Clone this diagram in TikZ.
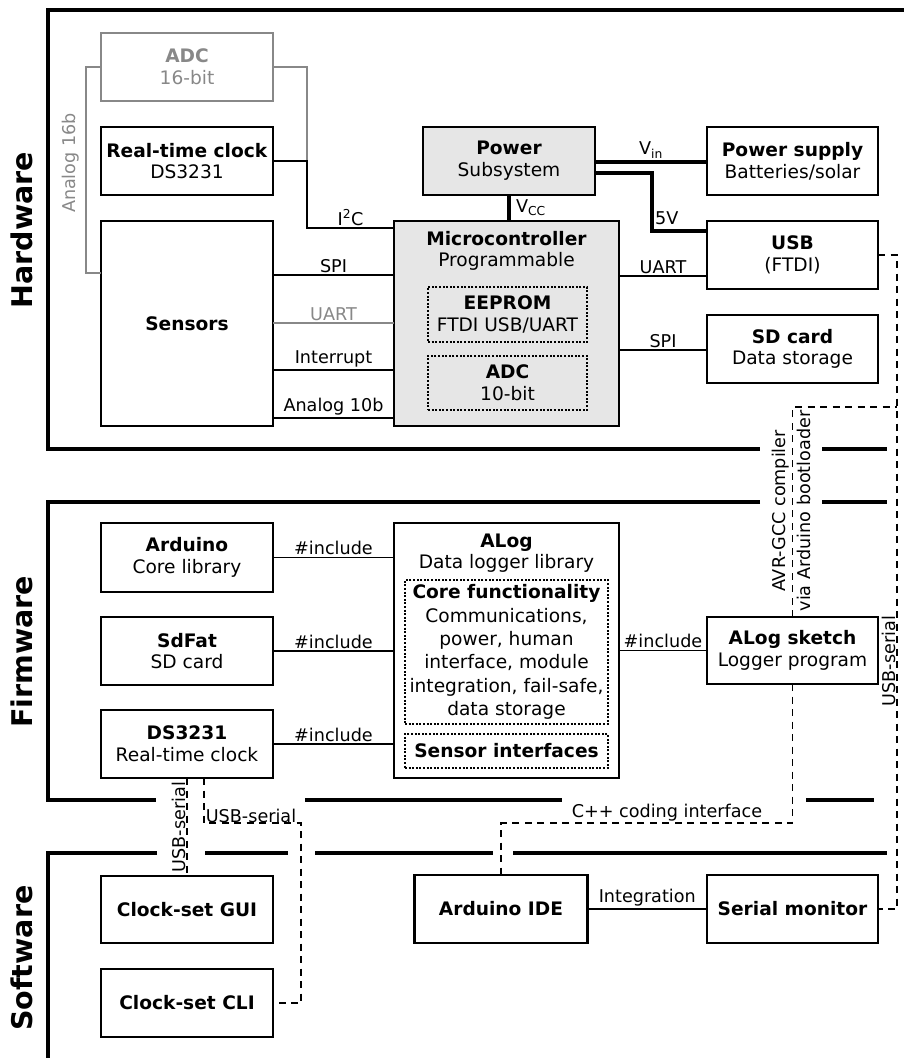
\documentclass[tikz,border=0pt]{standalone}
\usepackage{fontspec}
\setmainfont{DejaVu Sans}
\newcommand\myNodeFont{\fontsize{18.6}{21.7}\selectfont}
\newcommand\myLblFont{\fontsize{17.6}{20}\selectfont}
\newcommand\mySecFont{\fontsize{28.5}{34}\selectfont\bfseries}
\definecolor{boxfill}{HTML}{E6E6E6}
\definecolor{greyline}{HTML}{888888}
\begin{document}
\begin{tikzpicture}[x=1pt,y=-1pt,line join=miter,
  box/.style={draw, line width=2.6pt, inner sep=0pt, outer sep=0pt, align=center, font=\myNodeFont},
  greybox/.style={box, draw=greyline, text=greyline},
  shadedbox/.style={box, fill=boxfill},
  dotbox/.style={draw, line width=2pt, dash pattern=on 2pt off 1.6pt, inner sep=0pt, outer sep=0pt, align=center, font=\myNodeFont},
  txt/.style={inner sep=0pt, align=center, font=\myNodeFont},
  conn/.style={line width=1.3pt},
  greyconn/.style={conn, draw=greyline},
  powerline/.style={line width=4pt},
  dashconn/.style={line width=1.3pt, dash pattern=on 7pt off 5.5pt},
  framepart/.style={line width=4.3pt},
  lbl/.style={font=\myLblFont, inner sep=2pt},
  rlbl/.style={font=\myLblFont, inner sep=0pt, rotate=90, anchor=base},
  seclbl/.style={font=\mySecFont, rotate=90, inner sep=0pt}
]
\useasboundingbox (0,0) rectangle (904,1058);

% ---------- frames ----------
\draw[framepart] (904,10) -- (48,10) -- (48,449) -- (760,449);
\draw[framepart] (822,449) -- (887,449);
\draw[framepart] (760,502) -- (48,502) -- (48,800) -- (156,800);
\draw[framepart] (822,502) -- (887,502);
\draw[framepart] (305,800) -- (562,800);
\draw[framepart] (806,800) -- (874,800);
\draw[framepart] (157,853) -- (48,853) -- (48,1058);
\draw[framepart] (205,853) -- (288,853);
\draw[framepart] (315,853) -- (493,853);
\draw[framepart] (513,853) -- (887,853);

\node[seclbl] (hw) at (22,230) {Hardware};
\node[seclbl] (fw) at (22,652) {Firmware};
\node[seclbl] (sw) at (22,958) {Software};

% ---------- hardware ----------
\node[greybox, minimum width=172pt, minimum height=68pt] (adc16) at (187,67) {\textbf{ADC}\\16-bit};
\node[box, minimum width=172pt, minimum height=68pt] (rtc) at (187,161) {\textbf{Real-time clock}\\DS3231};
\node[box, minimum width=172pt, minimum height=205pt] (sensors) at (187,323.5) {\textbf{Sensors}};
\node[shadedbox, minimum width=225pt, minimum height=205pt] (mcu) at (506.5,323.5) {};
\node[txt] (mcut) at (506.5,251) {\textbf{Microcontroller}\\Programmable};
\node[dotbox, minimum width=159pt, minimum height=55pt] (eeprom) at (507.5,314.5) {\textbf{EEPROM}\\FTDI USB/UART};
\node[dotbox, minimum width=159pt, minimum height=54pt] (adc10) at (507.5,383) {\textbf{ADC}\\10-bit};
\node[shadedbox, minimum width=172pt, minimum height=68pt] (power) at (509,161) {\textbf{Power}\\Subsystem};
\node[box, minimum width=171pt, minimum height=68pt] (psu) at (792.5,161) {\textbf{Power supply}\\Batteries/solar};
\node[box, minimum width=171pt, minimum height=68pt] (usb) at (792.5,255) {\textbf{USB}\\(FTDI)};
\node[box, minimum width=171pt, minimum height=68pt] (sd) at (792.5,349) {\textbf{SD card}\\Data storage};

\coordinate (i2cj) at (307,161);
\draw[greyconn] (adc16.east) -| (i2cj);
\draw[conn] (rtc.east) -- (i2cj) -- (307,228) -- node[lbl,above]{I\textsuperscript{2}C} (mcu.west |- 0,228);
\draw[greyconn] (adc16.west) -| (86,273) -- (sensors.west |- 0,273);
\node[rlbl, text=greyline] (an16) at (75.5,163) {Analog 16b};

\draw[conn] (sensors.east |- 0,275) -- node[lbl,above]{SPI} (mcu.west |- 0,275);
\draw[greyconn] (sensors.east |- 0,323) -- node[lbl,above,text=greyline]{UART} (mcu.west |- 0,323);
\draw[conn] (sensors.east |- 0,370) -- node[lbl,above]{Interrupt} (mcu.west |- 0,370);
\draw[conn] (sensors.east |- 0,418) -- node[lbl,above]{Analog 10b} (mcu.west |- 0,418);

\draw[powerline] (power.south) -- node[lbl,right,inner sep=5pt]{V\textsubscript{CC}} (mcu.north -| power.south);
\draw[powerline] (power.east |- 0,162) -- node[lbl,above]{V\textsubscript{in}} (psu.west |- 0,162);
\draw[powerline] (power.east |- 0,173) -| (652,231) -- (usb.west |- 0,231);
\node[lbl, anchor=west] (fivev) at (653,218) {5V};

\draw[conn] (mcu.east |- 0,276) -- node[lbl,above]{UART} (usb.west |- 0,276);
\draw[conn] (mcu.east |- 0,350) -- node[lbl,above]{SPI} (sd.west |- 0,350);

% ---------- firmware ----------
\node[box, minimum width=172pt, minimum height=69pt] (arduino) at (187,557.5) {\textbf{Arduino}\\Core library};
\node[box, minimum width=172pt, minimum height=68pt] (sdfat) at (187,651) {\textbf{SdFat}\\SD card};
\node[box, minimum width=172pt, minimum height=68pt] (ds3231) at (187,744) {\textbf{DS3231}\\Real-time clock};
\node[box, minimum width=225pt, minimum height=255pt] (alog) at (506.5,650.5) {};
\node[txt] (alogt) at (506.5,553) {\textbf{ALog}\\Data logger library};
\node[dotbox, minimum width=203pt, minimum height=144pt, font={\fontsize{18.6}{23.3}\selectfont}] (core) at (506.5,652) {\textbf{Core functionality}\\Communications,\\power, human\\interface, module\\integration, fail-safe,\\data storage};
\node[dotbox, minimum width=203pt, minimum height=34pt] (sensint) at (506.5,751) {\textbf{Sensor interfaces}};
\node[box, minimum width=171pt, minimum height=67pt] (sketch) at (792.5,650.5) {\textbf{ALog sketch}\\Logger program};

\draw[conn] (arduino.east) -- node[lbl,above]{\#include} (alog.west |- arduino.east);
\draw[conn] (sdfat.east) -- node[lbl,above]{\#include} (alog.west |- sdfat.east);
\draw[conn] (ds3231.east) -- node[lbl,above]{\#include} (alog.west |- ds3231.east);
\draw[conn] (alog.east |- sketch.west) -- node[lbl,above]{\#include} (sketch.west);

% ---------- software ----------
\node[box, minimum width=172pt, minimum height=67pt] (gui) at (187,909.5) {\textbf{Clock-set GUI}};
\node[box, minimum width=172pt, minimum height=68pt] (cli) at (187,1003) {\textbf{Clock-set CLI}};
\node[box, minimum width=173pt, minimum height=68pt] (ide) at (501,909) {\textbf{Arduino IDE}};
\node[box, minimum width=171pt, minimum height=68pt] (serial) at (792.5,909) {\textbf{Serial monitor}};

\draw[conn] (ide.east) -- node[lbl,above]{Integration} (serial.west);

% ---------- dashed links ----------
\coordinate (railtop) at (897,407);
\draw[dashconn] (usb.east) -| (897,909) -- (serial.east);
\node[rlbl] (usbser1) at (895.5,661) {USB-serial};

\draw[dashconn] (sketch.north) -- (sketch.north |- railtop) -- (railtop);
\node[rlbl] (avr1) at (785.5,511) {AVR-GCC compiler};
\node[rlbl] (avr2) at (810.5,511) {via Arduino bootloader};

\draw[dashconn] (sketch.south) -- (sketch.south |- 0,823) -| (ide.north);
\node[lbl, anchor=base, inner sep=0pt] (cpp) at (667,817) {C++ coding interface};

\draw[dashconn] (ds3231.south) -- (gui.north);
\node[rlbl] (usbser2) at (185.5,827) {USB-serial};

\draw[dashconn] ([xshift=17pt]ds3231.south) |- (301,823) |- (cli.east);
\node[lbl, anchor=base, inner sep=0pt] (usbser3) at (251,822) {USB-serial};

\end{tikzpicture}
\end{document}
